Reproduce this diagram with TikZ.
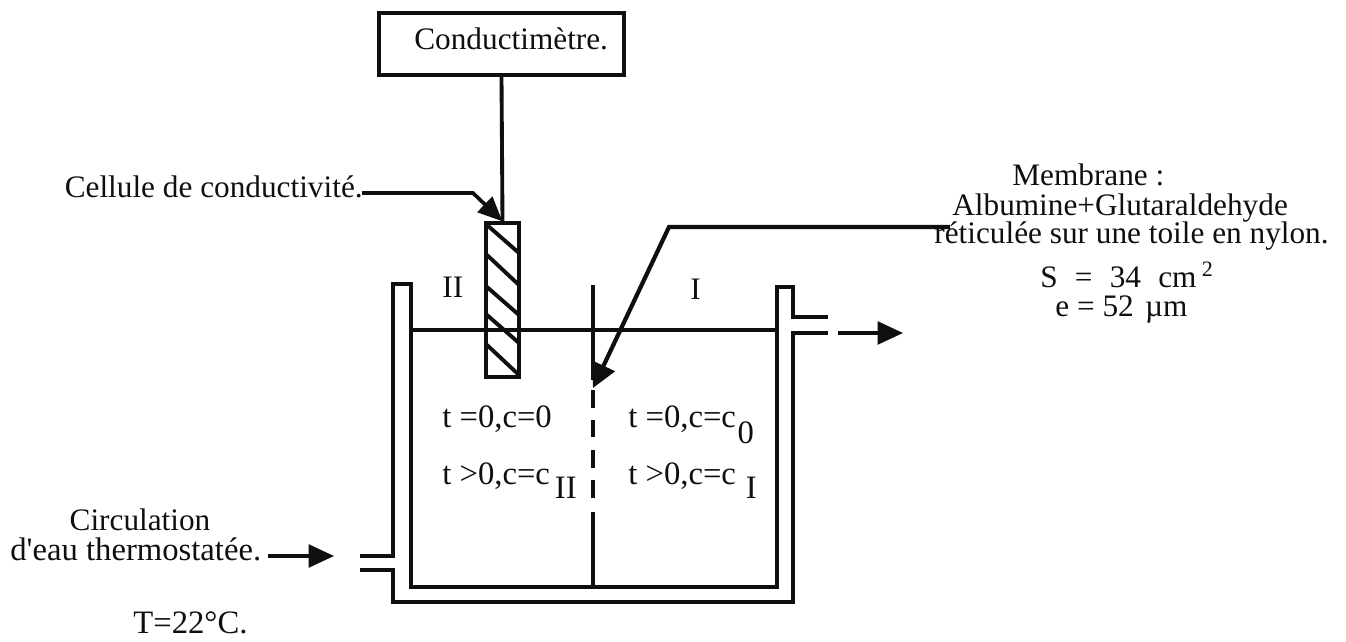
\documentclass[tikz,border=0pt]{standalone}
\usepackage{fontspec}
\setmainfont{Liberation Serif}
\usepackage{xcolor}
\usetikzlibrary{arrows.meta,positioning}
\definecolor{figInk}{RGB}{15,15,15}
\newcommand{\subbas}[3]{\hspace{#1}\raisebox{-#2}{#3}}
\tikzset{
  figwall/.style={draw=figInk,line width=1.9pt,line cap=rect,line join=miter},
  figstrip/.style={draw=figInk,line width=2.2pt,line cap=butt},
  figbox/.style={draw=figInk,line width=1.9pt,fill=white,inner sep=0pt},
  figtext/.style={font=\fontsize{17.8}{20}\selectfont,text=figInk,inner sep=0pt,anchor=base west},
  figcond/.style={font=\fontsize{18.6}{20}\selectfont,text=figInk,inner sep=0pt,anchor=base west},
  figflow/.style={-{Triangle[length=14.5pt,width=13pt]},draw=figInk,line width=1.9pt},
  figflowcell/.style={-{Triangle[length=14pt,width=12pt]},draw=figInk,line width=2.1pt},
  figflowbig/.style={-{Triangle[length=14pt,width=14pt]},draw=figInk,line width=2.4pt},
}
\begin{document}
\begin{tikzpicture}[x=0.02cm,y=-0.02cm]
  \useasboundingbox (0,0) rectangle (1346,642);

  \coordinate (cellbend) at (473,193);
  \coordinate (cellstart) at (362,193);
  \coordinate (membstart) at (950,227);
  \coordinate (membbend) at (669,227);
  \coordinate (membtip) at (593,388);
  \coordinate (eauin) at (268,556);
  \coordinate (eauintip) at (334,556);
  \coordinate (eauout) at (838,333);
  \coordinate (eauouttip) at (903,333);

  % Double-walled vessel, with its two water ports.
  \draw[figwall] (411,330) -- (411,284) -- (393,284) -- (393,556) -- (362,556);
  \draw[figwall] (362,570) -- (393,570) -- (393,602) -- (793,602) -- (793,333) -- (826,333);
  \draw[figwall] (826,317) -- (793,317) -- (793,287) -- (777,287) -- (777,587) -- (411,587) -- (411,330);

  % Membrane: solid above and below, dashed over the active part.
  \draw[figstrip] (593,285) -- (593,380);
  \foreach \a/\b in {390/408,420/437,450/468,480/498}
    \draw[figstrip] (593,\a) -- (593,\b);
  \draw[figstrip] (593,512) -- (593,587);

  % Conductivity cell and its meter.
  \node[figbox,minimum width=0.66cm,minimum height=3.08cm] (cellule) at (502.5,300) {};
  \foreach \ya/\yb in {225/253,255/285,287/315,315/343,345/375}
    \draw[figstrip] (487,\ya) -- (519,\yb);
  \draw[figstrip] (411,330) -- (777,330);
  \node[figbox,minimum width=4.9cm,minimum height=1.24cm] (conductimetre) at (501.5,44) {};
  \node[figtext] (conducttext) at (414,50) {Conductimètre.};
  \draw[figstrip] (conductimetre.south) -- (cellule.north);

  % Leader arrows.
  \draw[figflowcell] (cellstart) -- (cellbend) -- (cellule.north);
  \draw[figflowbig] (membstart) -- (membbend) -- (membtip);
  \draw[figflow] (eauin) -- (eauintip);
  \draw[figflow] (eauout) -- (eauouttip);

  % Labels.
  \node[figtext,anchor=base east] (celltext) at (363,197) {Cellule de conductivité.};
  \node[figtext] (membtext) at (1012,186) {Membrane :};
  \node[figtext] (albutext) at (952,215) {Albumine+Glutaraldehyde};
  \node[figtext] (reticutext) at (934,243) {réticulée sur une toile en nylon.};
  \node[figtext] (surftext) at (1040,287)
    {S\hspace{9.8pt}=\hspace{9.8pt}34\hspace{9.8pt}cm\hspace{3pt}\raisebox{5.7pt}{\fontsize{12.5}{14}\selectfont 2}};
  \node[figtext] (epaistext) at (1055,316) {e = 52\hspace{2pt} µm};
  \node[figtext] (compartb) at (442,297) {II};
  \node[figtext] (comparta) at (690,299) {I};
  \node[figcond] (initb) at (442,427) {t =0,c=0};
  \node[figcond] (inita) at (628,427) {t =0,c=c\subbas{1pt}{9.3pt}{0}};
  \node[figcond] (finb) at (442,484) {t >0,c=c\subbas{2.8pt}{8pt}{II}};
  \node[figcond] (fina) at (628,484) {t >0,c=c\subbas{5.7pt}{8pt}{I}};
  \node[figtext,anchor=base] (circtext) at (140,530) {Circulation};
  \node[figcond] (eautext) at (10,560) {d\textquotesingle eau thermostatée.};
  \node[figcond] (temptext) at (133,633) {T=22°C.};
\end{tikzpicture}
\end{document}
